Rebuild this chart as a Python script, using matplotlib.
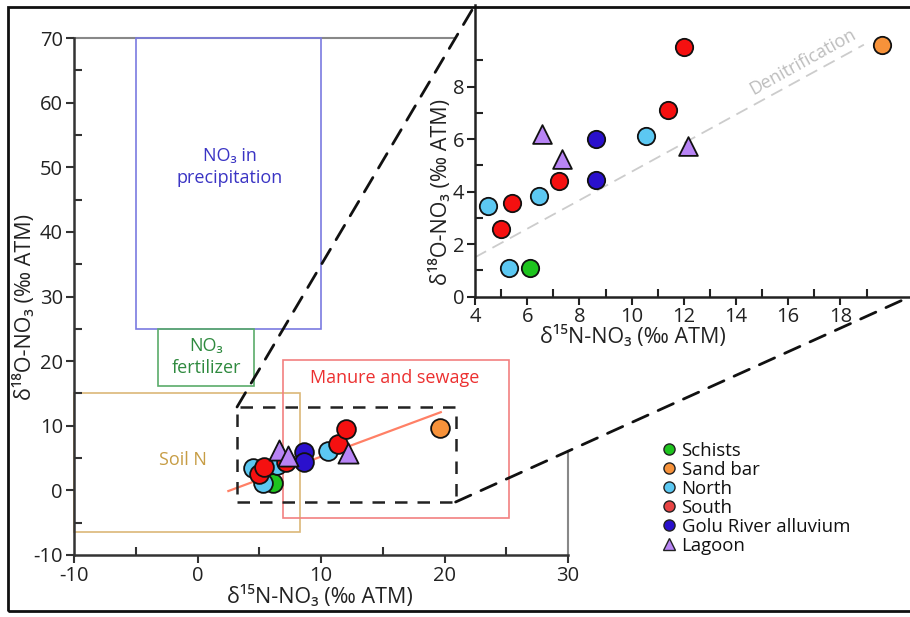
import matplotlib
matplotlib.use("Agg")
import matplotlib.pyplot as plt
from matplotlib.patches import Rectangle, ConnectionPatch
from matplotlib.lines import Line2D
import numpy as np

plt.rcParams['font.family'] = ['Open Sans', 'DejaVu Sans']
plt.rcParams['axes.unicode_minus'] = False

# ---------------- data ----------------
groups = ["Schists", "Sand bar", "North", "South", "Golu River alluvium", "Lagoon"]
colors = ["#1ec41e", "#f7923a", "#5cc8f2", "#f51010", "#2a10cc", "#b884f5"]
legend_colors = ["#1ec41e", "#f7923a", "#5cc8f2", "#e84444", "#2a10cc", "#b884f5"]
markers = ["o", "o", "o", "o", "o", "^"]

schists_n15 = [6.1]
schists_o18 = [1.1]
sandbar_n15 = [19.6]
sandbar_o18 = [9.6]
north_n15 = [4.5, 5.3, 6.45, 10.55]
north_o18 = [3.45, 1.1, 3.85, 6.12]
south_n15 = [5.0, 5.4, 7.2, 11.4, 12.0]
south_o18 = [2.58, 3.57, 4.42, 7.1, 9.5]
golu_n15 = [8.65, 8.65]
golu_o18 = [6.0, 4.45]
lagoon_n15 = [6.58, 7.35, 12.17]
lagoon_o18 = [6.18, 5.25, 5.75]

series_n15 = [schists_n15, sandbar_n15, north_n15, south_n15, golu_n15, lagoon_n15]
series_o18 = [schists_o18, sandbar_o18, north_o18, south_o18, golu_o18, lagoon_o18]

# source boxes: (x0, x1, y0, y1)
precip_box = (-5, 10, 25, 70)
fert_box = (-3.2, 4.6, 16.1, 25)
soil_box = (-10, 8.3, -6.5, 15)
manure_box = (6.9, 25.2, -4.2, 20.2)
zoom_box = (3.2, 20.9, -1.8, 12.9)

trend_x = [2.5, 19.7]
trend_y = [-0.1, 12.1]
denit_x = [4.0, 18.9]
denit_y = [1.5, 9.6]

main_xticks = [-10, 0, 10, 20, 30]
main_yticks = [-10, 0, 10, 20, 30, 40, 50, 60, 70]
inset_xticks = [4, 6, 8, 10, 12, 14, 16, 18]
inset_yticks = [0, 2, 4, 6, 8]

xlabel = "δ¹⁵N-NO₃ (‰ ATM)"
ylabel = "δ¹⁸O-NO₃ (‰ ATM)"

# ---------------- figure ----------------
W, H = 910, 617
fig = plt.figure(figsize=(W / 100, H / 100), dpi=100)

def fr(l, t, r, b):
    return [l / W, 1 - b / H, (r - l) / W, (b - t) / H]

TICK_FS = 14.5
LABEL_FS = 15.5

ax = fig.add_axes(fr(74, 38, 568, 555))
ax.set_xlim(-10, 30)
ax.set_ylim(-10, 70)
ax.set_facecolor("none")
for s in ["top", "right"]:
    ax.spines[s].set_visible(False)
for s in ["left", "bottom"]:
    ax.spines[s].set_color("#333333")
    ax.spines[s].set_linewidth(1.8)

ax.set_xticks(main_xticks)
ax.set_yticks(main_yticks)
ax.set_xticks(np.arange(-5, 30, 10), minor=True)
ax.set_yticks(np.arange(-5, 70, 10), minor=True)
ax.tick_params(which="major", direction="out", length=6, width=1.5, color="#333333",
               labelsize=TICK_FS, labelcolor="#222222", pad=2)
ax.tick_params(which="minor", direction="in", length=6, width=1.5, color="#333333")
ax.set_xlabel(xlabel, fontsize=LABEL_FS, color="#222222")
ax.set_ylabel(ylabel, fontsize=LABEL_FS, color="#222222")
ax.xaxis.set_label_coords(0.497, -0.059)
ax.yaxis.set_label_coords(-0.077, 0.48)

def box(a, b, color, lw=1.2, z=1):
    x0, x1, y0, y1 = b
    a.add_patch(Rectangle((x0, y0), x1 - x0, y1 - y0, fill=False, edgecolor=color,
                          linewidth=lw, zorder=z, clip_on=False))

box(ax, precip_box, "#7a7ae0")
box(ax, fert_box, "#5aac6a")
box(ax, soil_box, "#dcb878")
box(ax, manure_box, "#f28080")

ax.text(2.6, 50, "NO₃ in\nprecipitation", color="#3a34c4", fontsize=13, ha="center",
        va="center", linespacing=1.3)
ax.text(0.7, 20.6, "NO₃\nfertilizer", color="#2f8a3f", fontsize=13, ha="center",
        va="center", linespacing=1.3)
ax.text(-1.2, 4.7, "Soil N", color="#c79d45", fontsize=13, ha="center", va="center")
ax.text(16.0, 17.4, "Manure and sewage", color="#ec3030", fontsize=13, ha="center",
        va="center")

ax.plot(trend_x, trend_y, color="#ff8066", linewidth=1.6, zorder=3)

zx0, zx1, zy0, zy1 = zoom_box
ax.add_patch(Rectangle((zx0, zy0), zx1 - zx0, zy1 - zy0, fill=False, edgecolor="#222222",
                       linewidth=1.8, linestyle=(0, (5, 4)), zorder=4))

for n, o, c, m in zip(series_n15, series_o18, colors, markers):
    ax.scatter(n, o, s=(13.5 if m == "o" else 14.5) ** 2, c=c, marker=m,
               edgecolors="#111111", linewidths=1.3, zorder=6)

# ---------------- inset ----------------
ins = fig.add_axes([475 / W, 1 - 296.7 / H, (W - 475) / W, (296.7 - 5) / H])
ins.set_xlim(4, 4 + (W - 475) / 26.1)
ins.set_ylim(0, (296.7 - 5) / 26.25)
ins.set_facecolor("white")
for s in ["top", "right"]:
    ins.spines[s].set_visible(False)
for s in ["left", "bottom"]:
    ins.spines[s].set_color("#222222")
    ins.spines[s].set_linewidth(1.8)
ins.set_xticks(inset_xticks)
ins.set_yticks(inset_yticks)
ins.set_xticks(np.arange(5, 20.5, 2), minor=True)
ins.set_yticks(np.arange(1, 10.5, 2), minor=True)
ins.tick_params(which="major", direction="out", length=6, width=1.5, color="#222222",
                labelsize=TICK_FS, labelcolor="#222222", pad=1.5)
ins.tick_params(which="minor", direction="in", length=6, width=1.5, color="#222222")
ins.set_xlabel(xlabel, fontsize=LABEL_FS, color="#222222")
ins.set_ylabel(ylabel, fontsize=LABEL_FS, color="#222222")
ins.xaxis.set_label_coords(0.363, -0.10)
ins.yaxis.set_label_coords(-0.052, 0.36)

ins.plot(denit_x, denit_y, color="#cccccc", linewidth=1.3, linestyle=(0, (7, 4)), zorder=2)
ins.text(16.55, 8.95, "Denitrification", color="#bdbdbd", fontsize=13, ha="center",
         va="center", rotation=29, rotation_mode="anchor")

for n, o, c, m in zip(series_n15, series_o18, colors, markers):
    ins.scatter(n, o, s=(12.5 if m == "o" else 13.5) ** 2, c=c, marker=m,
                edgecolors="#111111", linewidths=1.3, zorder=6, clip_on=False)

# ---------------- connectors ----------------
cp1 = ConnectionPatch(xyA=(zx0, zy1), coordsA=ax.transData, xyB=(0, 1), coordsB=ins.transAxes,
                      color="#111111", linewidth=2.0, linestyle=(0, (6, 4)), zorder=10)
cp2 = ConnectionPatch(xyA=(zx1, zy0), coordsA=ax.transData, xyB=(1, 0), coordsB=ins.transAxes,
                      color="#111111", linewidth=2.0, linestyle=(0, (6, 4)), zorder=10)
fig.add_artist(cp1)
fig.add_artist(cp2)

# gray top/right frame of the main axes, cut where the connectors cross
A1 = ax.transData.transform((zx0, zy1))
B1 = ins.transAxes.transform((0, 1))
ytop = ax.transData.transform((0, 70))[1]
xcut = A1[0] + (ytop - A1[1]) * (B1[0] - A1[0]) / (B1[1] - A1[1])
xcut_d = ax.transData.inverted().transform((xcut, ytop))[0]
ax.plot([-10, xcut_d], [70, 70], color="#888888", linewidth=1.5, clip_on=False, zorder=0)

A2 = ax.transData.transform((zx1, zy0))
B2 = ins.transAxes.transform((1, 0))
xr = ax.transData.transform((30, 0))[0]
ycut = A2[1] + (xr - A2[0]) * (B2[1] - A2[1]) / (B2[0] - A2[0])
ycut_d = ax.transData.inverted().transform((xr, ycut))[1]
ax.plot([30, 30], [-10, ycut_d], color="#888888", linewidth=1.5, clip_on=False, zorder=0)

# ---------------- legend ----------------
handles = [Line2D([], [], linestyle="none", marker=m, markersize=8, markerfacecolor=c,
                  markeredgecolor="#222222", markeredgewidth=1.0)
           for c, m in zip(legend_colors, markers)]
fig.legend(handles, groups, loc="upper left", bbox_to_anchor=(662 / W, 1 - 442 / H),
           frameon=False, fontsize=13.4, handlelength=0.7, handletextpad=0.35,
           labelspacing=0.05, borderpad=0, borderaxespad=0, labelcolor="#111111")

# ---------------- figure frame ----------------
fig.add_artist(Rectangle((8 / W, 6 / H), 1.2, 1 - 13 / H, transform=fig.transFigure,
                         fill=False, edgecolor="#111111", linewidth=2.0, clip_on=False))

fig.savefig("out.png", dpi=100, facecolor="white")
